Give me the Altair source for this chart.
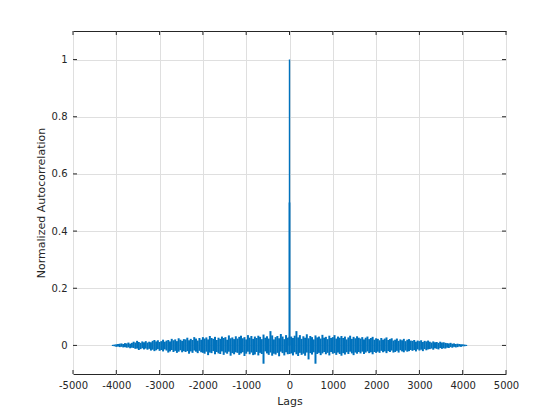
import altair as alt
import pandas as pd

# band of the noisy autocorrelation: per 40-lag bin, top and bottom,
# listed from the centre outwards (bin 1 = lag +-40, ..., bin 102 = lag +-4080)
left_hi_out = [
    0.027, 0.036, 0.022, 0.031, 0.040, 0.025, 0.033, 0.029, 0.021, 0.035,
    0.050, 0.024, 0.032, 0.027, 0.038, 0.022, 0.030, 0.034, 0.026, 0.031,
    0.023, 0.033, 0.027, 0.036, 0.021, 0.029, 0.025, 0.034, 0.030, 0.024,
    0.032, 0.022, 0.028, 0.025, 0.035, 0.020, 0.029, 0.026, 0.031, 0.023,
    0.027, 0.019, 0.030, 0.023, 0.026, 0.033, 0.021, 0.028, 0.024, 0.029,
    0.020, 0.026, 0.017, 0.024, 0.029, 0.019, 0.023, 0.018, 0.027, 0.021,
    0.022, 0.016, 0.020, 0.025, 0.015, 0.021, 0.018, 0.023, 0.014, 0.019,
    0.017, 0.013, 0.020, 0.015, 0.012, 0.018, 0.014, 0.019, 0.016, 0.011,
    0.013, 0.010, 0.015, 0.011, 0.014, 0.009, 0.012, 0.016, 0.010, 0.013,
    0.009, 0.006, 0.010, 0.007, 0.008, 0.005, 0.007, 0.006, 0.005, 0.004,
    0.003, 0.002,
]
left_lo_out = [
    -0.031, -0.024, -0.035, -0.027, -0.022, -0.038, -0.026, -0.032, -0.029, -0.036,
    -0.025, -0.033, -0.028, -0.021, -0.064, -0.030, -0.026, -0.035, -0.023, -0.032,
    -0.034, -0.025, -0.031, -0.022, -0.029, -0.037, -0.024, -0.028, -0.033, -0.026,
    -0.024, -0.031, -0.027, -0.036, -0.022, -0.029, -0.025, -0.033, -0.021, -0.030,
    -0.028, -0.023, -0.031, -0.020, -0.027, -0.025, -0.034, -0.022, -0.029, -0.026,
    -0.024, -0.019, -0.027, -0.022, -0.018, -0.026, -0.021, -0.029, -0.020, -0.023,
    -0.020, -0.024, -0.017, -0.022, -0.026, -0.019, -0.023, -0.016, -0.021, -0.025,
    -0.018, -0.014, -0.021, -0.016, -0.019, -0.013, -0.017, -0.020, -0.015, -0.018,
    -0.012, -0.015, -0.011, -0.014, -0.010, -0.013, -0.016, -0.011, -0.012, -0.009,
    -0.008, -0.010, -0.007, -0.008, -0.006, -0.007, -0.005, -0.006, -0.004, -0.005,
    -0.003, -0.002,
]
right_hi_out = [
    0.031, 0.026, 0.034, 0.050, 0.028, 0.036, 0.023, 0.032, 0.027, 0.039,
    0.025, 0.033, 0.029, 0.021, 0.035, 0.028, 0.031, 0.024, 0.037, 0.027,
    0.030, 0.022, 0.034, 0.026, 0.029, 0.036, 0.024, 0.031, 0.027, 0.033,
    0.026, 0.031, 0.021, 0.028, 0.034, 0.023, 0.030, 0.025, 0.032, 0.027,
    0.024, 0.029, 0.021, 0.027, 0.031, 0.022, 0.026, 0.030, 0.020, 0.025,
    0.023, 0.018, 0.026, 0.020, 0.024, 0.028, 0.019, 0.022, 0.025, 0.017,
    0.020, 0.024, 0.016, 0.021, 0.018, 0.023, 0.015, 0.020, 0.022, 0.017,
    0.016, 0.019, 0.013, 0.017, 0.015, 0.018, 0.012, 0.016, 0.014, 0.017,
    0.013, 0.010, 0.014, 0.011, 0.012, 0.009, 0.013, 0.010, 0.011, 0.009,
    0.008, 0.007, 0.009, 0.006, 0.007, 0.005, 0.006, 0.005, 0.004, 0.004,
    0.003, 0.002,
]
right_lo_out = [
    -0.028, -0.035, -0.024, -0.031, -0.037, -0.026, -0.033, -0.029, -0.036, -0.025,
    -0.049, -0.027, -0.032, -0.024, -0.064, -0.030, -0.026, -0.034, -0.028, -0.023,
    -0.031, -0.026, -0.035, -0.023, -0.029, -0.027, -0.033, -0.025, -0.030, -0.036,
    -0.027, -0.032, -0.024, -0.030, -0.022, -0.028, -0.034, -0.025, -0.029, -0.023,
    -0.028, -0.022, -0.030, -0.025, -0.021, -0.027, -0.024, -0.031, -0.023, -0.026,
    -0.022, -0.026, -0.019, -0.024, -0.021, -0.027, -0.020, -0.023, -0.018, -0.025,
    -0.023, -0.019, -0.025, -0.017, -0.021, -0.024, -0.018, -0.022, -0.020, -0.016,
    -0.019, -0.016, -0.021, -0.014, -0.018, -0.015, -0.020, -0.013, -0.017, -0.014,
    -0.013, -0.011, -0.015, -0.010, -0.012, -0.014, -0.009, -0.012, -0.010, -0.011,
    -0.008, -0.009, -0.006, -0.008, -0.005, -0.007, -0.006, -0.004, -0.005, -0.003,
    -0.003, -0.002,
]
center_hi = 0.030
center_lo = -0.030

# the peak around lag 0
spike_lags = [-1, 0, 1]
spike_vals = [0.5, 1.0, 0.5]

step = 40
n = len(right_hi_out)
left_lags = [-step * (n - i) for i in range(n)]
right_lags = [step * (i + 1) for i in range(n)]

x_ticks = [-5000, -4000, -3000, -2000, -1000, 0, 1000, 2000, 3000, 4000, 5000]
y_ticks = [0, 0.2, 0.4, 0.6, 0.8, 1.0]

df_band = pd.DataFrame({
    "lag": left_lags + [0] + right_lags,
    "hi": left_hi_out[::-1] + [center_hi] + right_hi_out,
    "lo": left_lo_out[::-1] + [center_lo] + right_lo_out,
})
df_spike = pd.DataFrame({"lag": spike_lags, "acf": spike_vals, "base": [0.0] * len(spike_lags)})
df_xt = pd.DataFrame({"t": x_ticks})
df_yt = pd.DataFrame({"t": y_ticks})

W, H = 433, 343
FONT = "DejaVu Sans"
TXT = "#262626"
BLUE = "#0072BD"

xscale = alt.Scale(domain=[-5000, 5000], nice=False, zero=False)
yscale = alt.Scale(domain=[-0.1, 1.1], nice=False, zero=False)

xaxis = alt.Axis(values=x_ticks, labelExpr="'' + datum.value", title="Lags", grid=True,
                 gridColor="#dfdfdf", domain=False, ticks=False, labelOverlap=False,
                 labelFlush=False, labelPadding=6, titlePadding=5)
yaxis = alt.Axis(values=y_ticks, format="~g", title="Normalized Autocorrelation",
                 grid=True, gridColor="#dfdfdf", domain=False, ticks=False,
                 labelOverlap=False, labelFlush=False, labelPadding=6, titlePadding=5)

band = alt.Chart(df_band).mark_rule(color=BLUE, strokeWidth=2).encode(
    x=alt.X("lag:Q", scale=xscale, axis=xaxis),
    y=alt.Y("lo:Q", scale=yscale, axis=yaxis),
    y2="hi:Q",
)
spike = alt.Chart(df_spike).mark_rule(color=BLUE, strokeWidth=1.4).encode(
    x=alt.X("lag:Q", scale=xscale), y=alt.Y("base:Q", scale=yscale), y2="acf:Q")

tk_bottom = alt.Chart(df_xt).mark_rule(color=TXT, strokeWidth=1).encode(
    x=alt.X("t:Q", scale=xscale), y=alt.value(H), y2=alt.value(H - 4))
tk_top = alt.Chart(df_xt).mark_rule(color=TXT, strokeWidth=1).encode(
    x=alt.X("t:Q", scale=xscale), y=alt.value(0), y2=alt.value(4))
tk_left = alt.Chart(df_yt).mark_rule(color=TXT, strokeWidth=1).encode(
    y=alt.Y("t:Q", scale=yscale), x=alt.value(0), x2=alt.value(4))
tk_right = alt.Chart(df_yt).mark_rule(color=TXT, strokeWidth=1).encode(
    y=alt.Y("t:Q", scale=yscale), x=alt.value(W), x2=alt.value(W - 4))

chart = alt.layer(band, spike, tk_bottom, tk_top, tk_left, tk_right).properties(
    width=W, height=H,
    autosize=alt.AutoSizeParams(type="none"),
    padding={"left": 65, "top": 23, "right": 40, "bottom": 36},
).configure(
    font=FONT,
).configure_view(
    stroke=TXT, strokeWidth=1,
).configure_axis(
    labelFont=FONT, labelFontSize=10, labelColor=TXT,
    titleFont=FONT, titleFontSize=11, titleColor=TXT, titleFontWeight="normal",
)

chart.save("out.html", embed_options={"renderer": "svg", "actions": False})
